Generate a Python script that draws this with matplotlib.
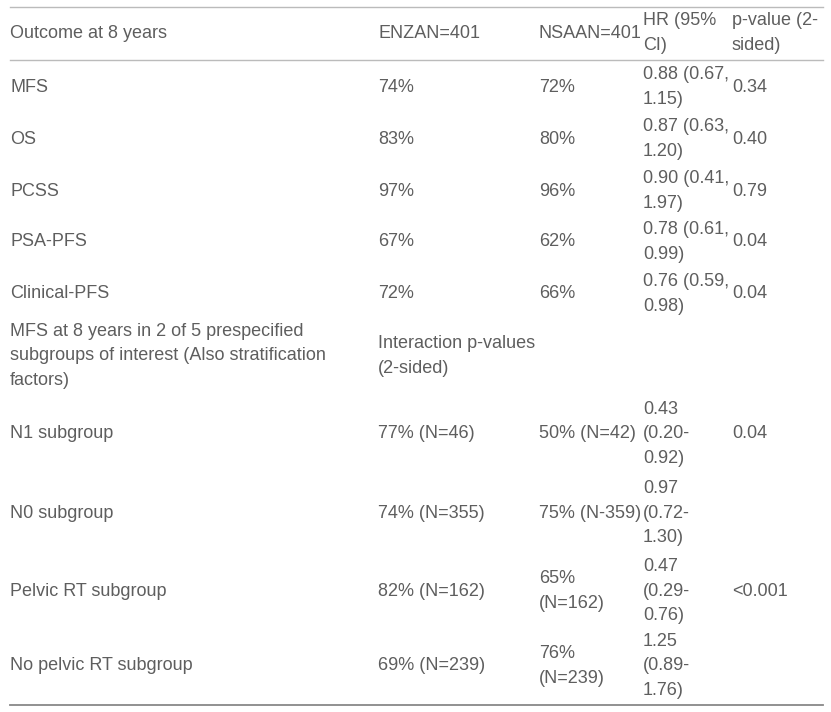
import matplotlib
matplotlib.use("Agg")
import matplotlib.pyplot as plt

# table content (cells already wrapped as in the picture)
header = ["Outcome at 8 years", "ENZAN=401", "NSAAN=401", "HR (95%\nCI)", "p-value (2-\nsided)"]
outcomes = ["MFS", "OS", "PCSS", "PSA-PFS", "Clinical-PFS",
            "MFS at 8 years in 2 of 5 prespecified\nsubgroups of interest (Also stratification\nfactors)",
            "N1 subgroup", "N0 subgroup", "Pelvic RT subgroup", "No pelvic RT subgroup"]
enza = ["74%", "83%", "97%", "67%", "72%", "Interaction p-values\n(2-sided)",
        "77% (N=46)", "74% (N=355)", "82% (N=162)", "69% (N=239)"]
nsaa = ["72%", "80%", "96%", "62%", "66%", "",
        "50% (N=42)", "75% (N-359)", "65%\n(N=162)", "76%\n(N=239)"]
hr = ["0.88 (0.67,\n1.15)", "0.87 (0.63,\n1.20)", "0.90 (0.41,\n1.97)", "0.78 (0.61,\n0.99)",
      "0.76 (0.59,\n0.98)", "", "0.43\n(0.20-\n0.92)", "0.97\n(0.72-\n1.30)",
      "0.47\n(0.29-\n0.76)", "1.25\n(0.89-\n1.76)"]
pval = ["0.34", "0.40", "0.79", "0.04", "0.04", "", "0.04", "", "<0.001", ""]

# layout (pixels)
col_x = [10, 378, 539, 643, 732]
header_y = 33
row_y = [87, 139, 191, 242, 294, 356, 434, 513, 591, 666]

W, H = 831, 712
fig = plt.figure(figsize=(W / 100, H / 100), dpi=100)
ax = fig.add_axes([0, 0, 1, 1])
ax.set_xlim(0, W)
ax.set_ylim(H, 0)
ax.axis("off")

txt = dict(fontsize=13, color="#5e5e5e", family=["Liberation Sans", "DejaVu Sans"],
           va="center", ha="left", linespacing=1.55)

for x, s in zip(col_x, header):
    ax.text(x, header_y, s, **txt)

for i, y in enumerate(row_y):
    cells = [outcomes[i], enza[i], nsaa[i], hr[i], pval[i]]
    for x, s in zip(col_x, cells):
        if s:
            ax.text(x, y, s, **txt)

ax.plot([10, 823], [7, 7], color="#bbbbbb", lw=1)
ax.plot([10, 823], [60, 60], color="#bbbbbb", lw=1)
ax.plot([10, 823], [705, 705], color="#888888", lw=1.3)

fig.savefig("out.png", dpi=100)
